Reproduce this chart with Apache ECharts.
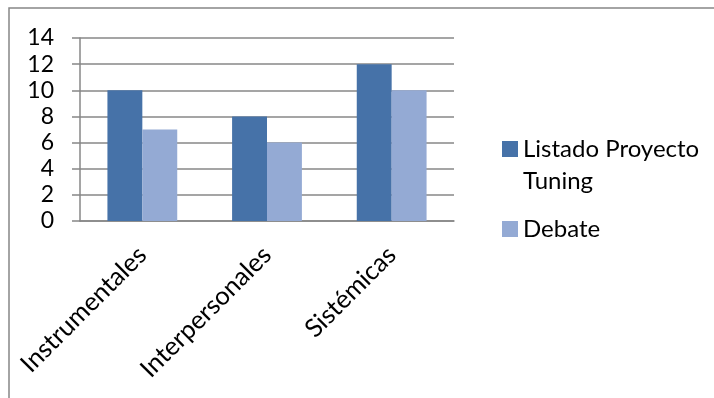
<!DOCTYPE html>
<html>
<head>
<meta charset="utf-8">
<script src="https://cdn.jsdelivr.net/npm/echarts@6/dist/echarts.min.js"></script>
<style>
  html, body { margin: 0; padding: 0; background: #fff; }
  #chart { width: 714px; height: 398px; }
</style>
</head>
<body>
<div id="chart"></div>
<script>
const categories = ['Instrumentales', 'Interpersonales', 'Sistémicas']
const seriesNames = ['Listado Proyecto\nTuning', 'Debate']
const listadoValues = [10, 8, 12]
const debateValues = [7, 6, 10]
const colors = ['#4672A8', '#94AAD4']

const gray = '#878787'
const font = 'Lato'

const chart = echarts.init(document.getElementById('chart'))
const option = {
  animation: false,
  textStyle: { fontFamily: font },
  graphic: [{
    type: 'rect',
    shape: { x: 9, y: 8, width: 720, height: 400 },
    style: { fill: 'none', stroke: gray, lineWidth: 1.5 }
  }],
  grid: { left: 80, top: 38, width: 374, height: 183 },
  legend: {
    orient: 'vertical',
    left: 497,
    top: 96,
    itemWidth: 16,
    itemHeight: 16,
    itemGap: 16,
    icon: 'rect',
    // multi-line names: blank first line so the icon sits on the first text line
    formatter: function (name) {
      return name.indexOf('\n') >= 0 ? ' \n' + name : name
    },
    textStyle: {
      fontFamily: font, fontSize: 24, color: '#000', lineHeight: 32
    },
    data: seriesNames
  },
  xAxis: {
    type: 'category',
    data: categories,
    axisLine: { lineStyle: { color: gray, width: 1.5 } },
    axisTick: { length: 7, lineStyle: { color: gray, width: 1.5 } },
    axisLabel: {
      rotate: 45, margin: 30, fontSize: 25.5, color: '#000', fontFamily: font
    }
  },
  yAxis: {
    type: 'value',
    min: 0, max: 14, interval: 2,
    axisLine: { show: true, lineStyle: { color: gray, width: 1.5 } },
    axisTick: { show: true, length: 8, lineStyle: { color: gray, width: 1.5 } },
    splitLine: { lineStyle: { color: gray, width: 1.5 } },
    axisLabel: { fontSize: 23, color: '#000', margin: 26, fontFamily: font }
  },
  series: [
    {
      name: seriesNames[0], type: 'bar', data: listadoValues,
      itemStyle: { color: colors[0] }, barGap: 0, barCategoryGap: '44%'
    },
    {
      name: seriesNames[1], type: 'bar', data: debateValues,
      itemStyle: { color: colors[1] }, barGap: 0, barCategoryGap: '44%'
    }
  ]
}
chart.setOption(option)
</script>
</body>
</html>
